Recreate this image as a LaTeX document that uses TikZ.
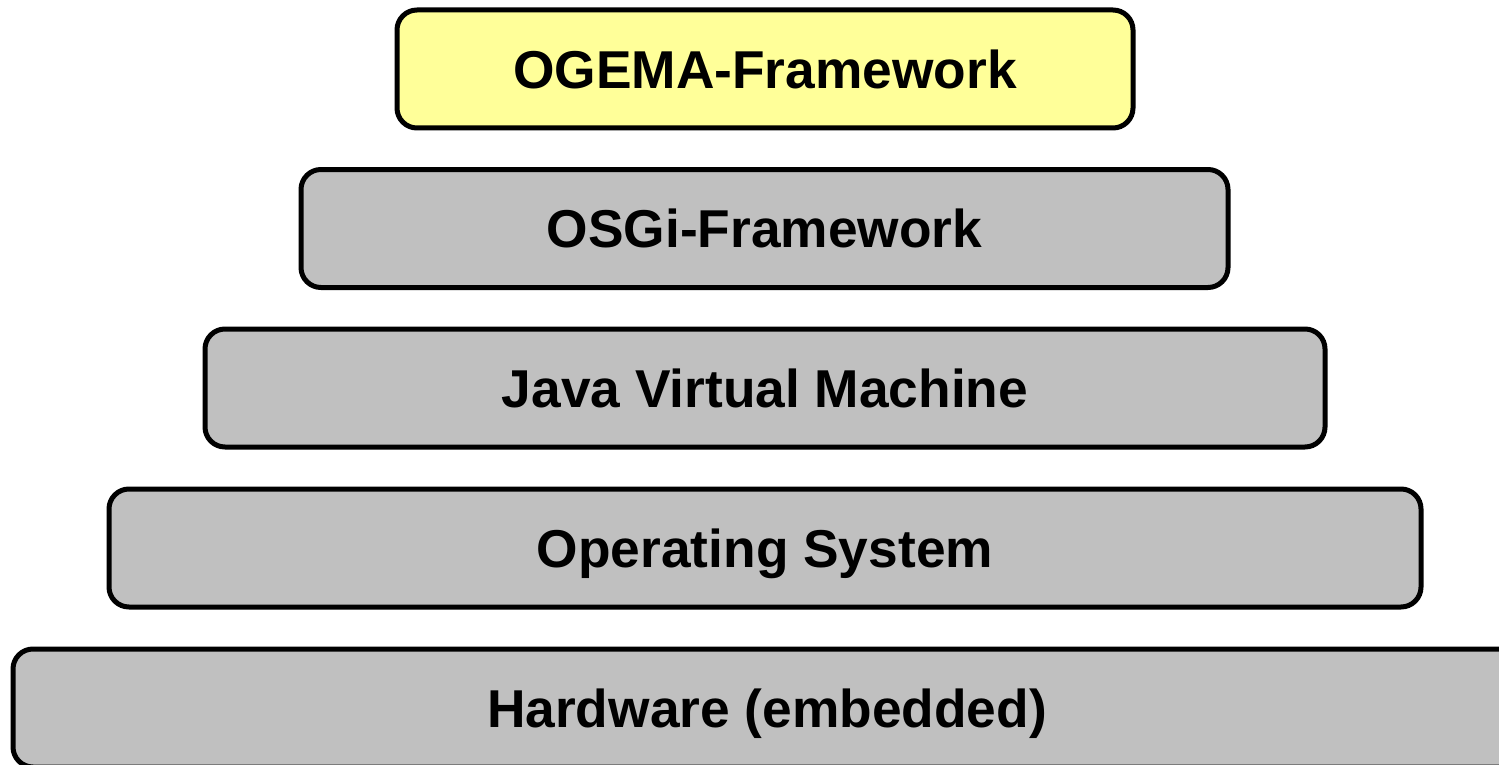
\documentclass[tikz,border=0pt]{standalone}
\usepackage{fontspec}
\setmainfont{Liberation Sans}
\definecolor{layergray}{HTML}{C0C0C0}
\definecolor{layeryellow}{HTML}{FFFF99}
\begin{document}
\begin{tikzpicture}[x=1pt,y=-1pt,
  layer/.style={draw=black, line width=5pt, rounded corners=20pt, fill=layergray,
    minimum height=118pt, inner sep=0pt, text depth=0pt, font=\fontsize{53.3}{64}\selectfont\bfseries}]
\useasboundingbox (0,0) rectangle (1499,765);
\clip (0,0) rectangle (1499,765);
\node[layer, fill=layeryellow, minimum width=736pt] (ogema) at (765,69) {OGEMA-Framework};
\node[layer, minimum width=927pt] (osgi) at (764.5,228.5) {OSGi-Framework};
\node[layer, minimum width=1120pt] (jvm) at (765,388) {Java Virtual Machine};
\node[layer, minimum width=1312pt] (os) at (765,548) {Operating System};
\node[layer, minimum width=1508pt] (hw) at (767,708) {Hardware (embedded)};
\end{tikzpicture}
\end{document}
